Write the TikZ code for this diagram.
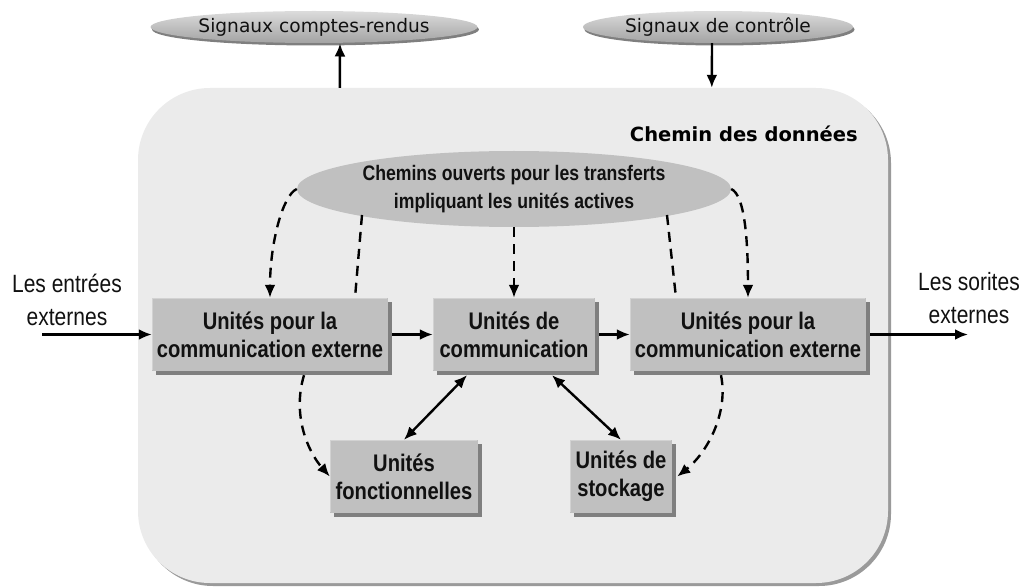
\documentclass[tikz,border=0pt]{standalone}
\usepackage{fontspec}
\setmainfont{Liberation Sans}
\newfontfamily\narrowfont[FakeStretch=0.84]{Liberation Sans}
\newfontfamily\widefont{DejaVu Sans}
\usetikzlibrary{arrows.meta,shadows,calc,shapes.geometric}

\definecolor{panelfill}{HTML}{EBEBEB}
\definecolor{panelshadow}{HTML}{9A9A9A}
\definecolor{unitfill}{HTML}{C0C0C0}
\definecolor{unitshadow}{HTML}{7F7F7F}
\definecolor{unitlight}{HTML}{D2D2D2}
\definecolor{inktext}{HTML}{111111}

\begin{document}
\begin{tikzpicture}[x=1pt,y=-1pt,
  panel/.style={rectangle, rounded corners=72pt, fill=panelfill, inner sep=0pt,
    minimum width=750pt, minimum height=495pt,
    drop shadow={shadow xshift=3pt, shadow yshift=-3pt, fill=panelshadow, opacity=1}},
  sigell/.style={ellipse, inner sep=0pt, minimum width=270pt, minimum height=32pt,
    top color=white!86!black, bottom color=white!64!black, text=inktext,
    font=\widefont\fontsize{18.6}{22}\selectfont,
    drop shadow={shadow xshift=1.5pt, shadow yshift=-2.5pt, fill=unitshadow, opacity=1}},
  pathell/.style={ellipse, inner sep=0pt, fill=unitfill, align=center, text=inktext,
    minimum width=434pt, minimum height=76pt,
    font=\narrowfont\bfseries\fontsize{21}{28}\selectfont},
  unitbox/.style={rectangle, inner sep=0pt, fill=unitfill, align=center, text=inktext,
    minimum height=73pt, font=\narrowfont\bfseries\fontsize{24}{28}\selectfont,
    drop shadow={shadow xshift=4pt, shadow yshift=-4pt, fill=unitshadow, opacity=1}},
  sidelabel/.style={align=center, text=inktext, inner sep=0pt,
    font=\narrowfont\fontsize{25}{33}\selectfont},
  edgelight/.style={draw=unitlight, line width=1.6pt},
  tip/.style={-{Latex[length=13pt,width=11pt]}},
  flow/.style={draw=black, line width=2.4pt, tip},
  flowboth/.style={draw=black, line width=2.4pt, {Latex[length=13pt,width=11pt]}-{Latex[length=13pt,width=11pt]}},
  dashflow/.style={draw=black, line width=2.4pt, dash pattern=on 10pt off 7pt, tip},
  dashlink/.style={draw=black, line width=2.4pt, dash pattern=on 10pt off 7pt}
]
\useasboundingbox (0,0) rectangle (1034,588);

% data path panel
\node[panel] (panel) at (513,335.5) {};
\node[anchor=base east, text=black, inner sep=0pt,
      font=\widefont\bfseries\fontsize{19.5}{23}\selectfont] (title) at (858,142) {Chemin des données};

% status and control signals
\node[sigell] (rep) at (314,27) {Signaux comptes-rendus};
\node[sigell] (ctl) at (718,27) {Signaux de contrôle};

% open paths
\node[pathell] (cell) at (514,189) {Chemins ouverts pour les transferts\\impliquant les unités actives};

% units
\node[unitbox, minimum width=236pt] (ext1) at (270,334.5) {Unités pour la\\communication externe};
\node[unitbox, minimum width=162pt] (mid) at (514,334.5) {Unités de\\communication};
\node[unitbox, minimum width=236pt] (ext2) at (748,334.5) {Unités pour la\\communication externe};
\node[unitbox, minimum width=148pt] (fonct) at (404,476.5) {Unités\\fonctionnelles};
\node[unitbox, minimum width=102pt] (stock) at (621,476.5) {Unités de\\stockage};

\foreach \n in {ext1,mid,ext2,fonct,stock}
  \draw[edgelight] ($(\n.south west)+(0.8,-0.8)$) |- ($(\n.north east)+(-0.8,0.8)$);

% external inputs and outputs
\node[sidelabel] (inlab) at (67,300) {Les entrées\\externes};
\node[sidelabel] (outlab) at (969,298) {Les sorites\\externes};
\coordinate (inpt) at (42,334.5);
\coordinate (outpt) at (968,334.5);

% solid connectors
\draw[flow] ($(panel.north west)+(202,0)$) -- ($(rep.south)+(26,0.3)$);
\draw[flow] ($(ctl.south)+(-6,0)$) -- ($(panel.north west)+(574,0)$);
\draw[flow] (inpt) -- (ext1.west);
\draw[flow] ($(ext1.east)+(4,0)$) -- (mid.west);
\draw[flow] ($(mid.east)+(4,0)$) -- (ext2.west);
\draw[flow] ($(ext2.east)+(4,0)$) -- (outpt);
\draw[flowboth] ($(mid.south)+(-47,4)$) -- (fonct.north);
\draw[flowboth] ($(mid.south)+(38,4)$) -- (stock.north);

% dashed connectors
\draw[dashflow] (cell.west) .. controls +(-14,6) and +(0,-55) .. (ext1.north);
\draw[dashlink] ($(cell.center)+(-152,26)$) -- ($(ext1.north)+(85,0)$);
\draw[dashflow] (cell.south) -- (mid.north);
\draw[dashflow] (cell.east) .. controls +(14,6) and +(0,-55) .. (ext2.north);
\draw[dashlink] ($(cell.center)+(153,26)$) -- ($(ext2.north)+(-72,0)$);
\draw[dashflow] ($(ext1.south)+(34,4)$) .. controls +(-12,40) and +(-22,-25) .. (fonct.west);
\draw[dashflow] ($(ext2.south)+(-27,4)$) .. controls +(8,40) and +(28,-22) .. ($(stock.east)+(5,0)$);
\end{tikzpicture}
\end{document}
